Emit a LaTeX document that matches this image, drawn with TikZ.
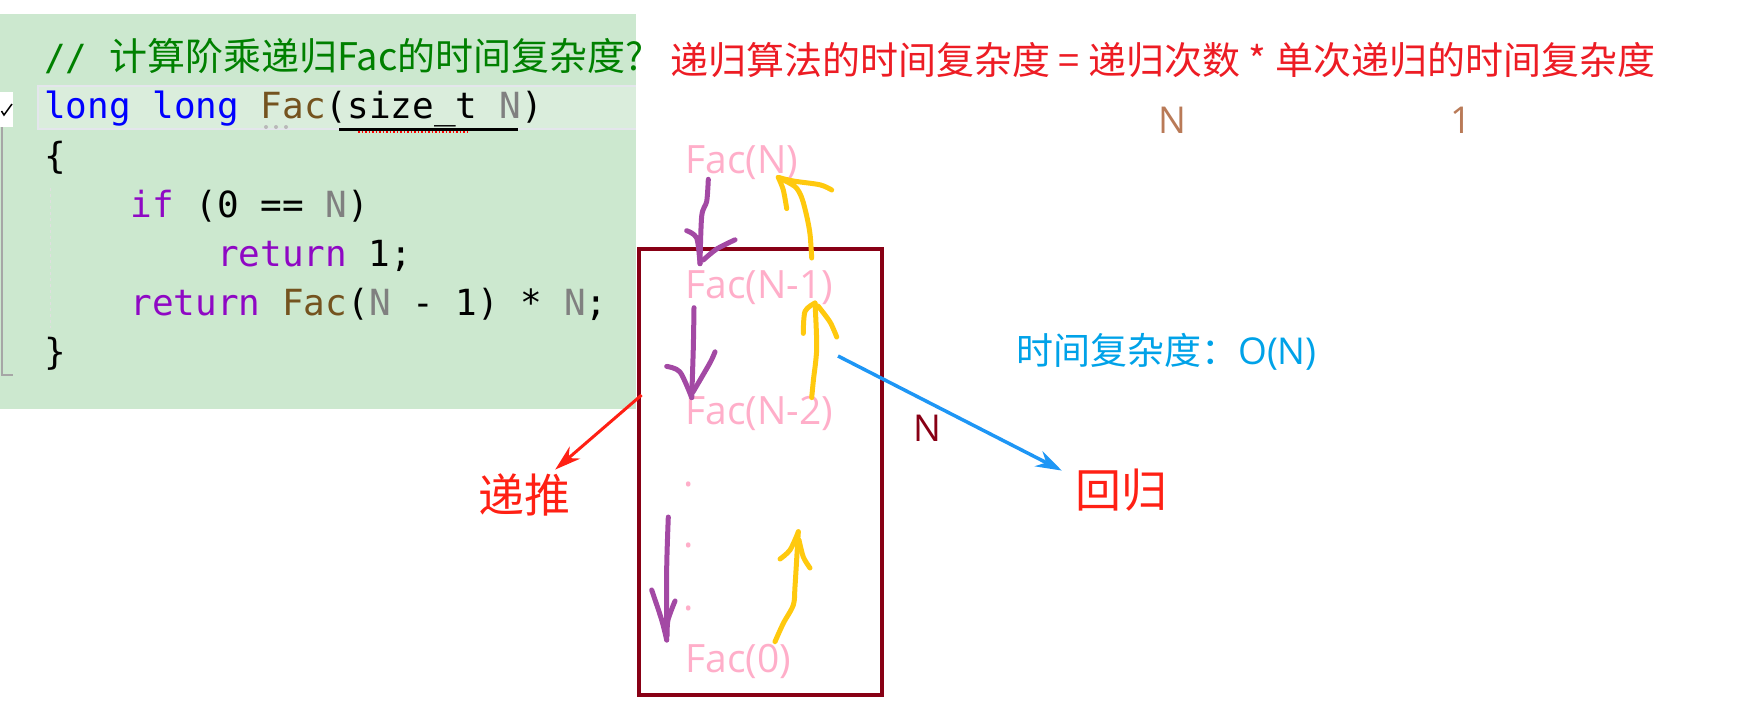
\documentclass[tikz,border=0pt]{standalone}
\usepackage{fontspec}
\setmainfont{Noto Sans CJK SC}
\setmonofont{DejaVu Sans Mono}
\newfontfamily\cjkfont{Noto Sans CJK SC}
\newfontfamily\latinfont{Open Sans}
\usetikzlibrary{calc,positioning,arrows.meta}
\definecolor{codebg}{RGB}{204,232,207}
\definecolor{linebg}{RGB}{218,237,220}
\definecolor{linebd}{RGB}{228,230,236}
\definecolor{kwblue}{RGB}{0,0,255}
\definecolor{kwpurple}{RGB}{143,8,196}
\definecolor{fnbrown}{RGB}{116,83,31}
\definecolor{argray}{RGB}{128,128,128}
\definecolor{cmtgreen}{RGB}{0,128,0}
\definecolor{titlered}{RGB}{237,28,36}
\definecolor{facpink}{RGB}{255,174,201}
\definecolor{boxred}{RGB}{136,0,21}
\definecolor{numbrown}{RGB}{185,122,87}
\definecolor{penpurple}{RGB}{163,73,164}
\definecolor{penyellow}{RGB}{255,201,14}
\definecolor{noteblue}{RGB}{0,162,232}
\definecolor{arrowblue}{RGB}{30,150,245}
\definecolor{markred}{RGB}{255,32,20}

\begin{document}
\begin{tikzpicture}[x=1pt,y=-1pt]
        \tikzstyle{code_line} = [anchor=base west, inner sep=0, font=\ttfamily\fontsize{36}{40}\selectfont]
        \tikzstyle{fac_label} = [anchor=base west, inner sep=0, text=facpink, font=\latinfont\fontsize{39}{40}\selectfont]
        \tikzstyle{count} = [inner sep=0, text=numbrown, font=\latinfont\fontsize{37}{40}\selectfont]
        \tikzstyle{mark_word} = [inner sep=0, text=markred, font=\cjkfont\fontsize{46}{48}\selectfont]
        \tikzstyle{pen_purple} = [penpurple, line width=5, line cap=round, line join=round]
        \tikzstyle{pen_yellow} = [penyellow, line width=5, line cap=round, line join=round]
        \useasboundingbox (0,0) rectangle (1760,704);

        \fill[codebg] (0,14) rectangle (635.5,409);
        \fill[linebg] (37,85) rectangle (635.5,130);
        \draw[linebd, line width=2.5] (635.5,86) -| (38,129) -- (635.5,129);
        \fill[white] (0,92) rectangle (13,127);
        \draw[line width=1.5] (1.5,111) -- (4,115) -- (12,104);
        \draw[gray!70, line width=2] (2,127) -- (2,375) -- (12.6,375);
        \draw[gray!25, dashed, line width=1.5] (50.5,188) -- (50.5,328);

        \node (comment) [code_line, text=cmtgreen] at (44,70) {// {\cjkfont\fontsize{38}{40}\selectfont 计算阶乘递归Fac的时间复杂度?}};
        \node (signature) [code_line] at (44,118) {\textcolor{kwblue}{long long} \textcolor{fnbrown}{Fac}(size\_t \textcolor{argray}{N})};
        \node (open_brace) [code_line] at (44,168) {\{};
        \node (if_line) [code_line] at (130.4,217) {\textcolor{kwpurple}{if} (0 == \textcolor{argray}{N})};
        \node (return_one) [code_line] at (216.8,266) {\textcolor{kwpurple}{return} 1;};
        \node (return_rec) [code_line] at (130.4,315) {\textcolor{kwpurple}{return} \textcolor{fnbrown}{Fac}(\textcolor{argray}{N} - 1) * \textcolor{argray}{N};};
        \node (close_brace) [code_line] at (44,364) {\}};
        \draw[line width=3] (339,129) -- (518,129);
        \draw[red, line width=1.5, dotted] (358,132) -- (467,132);
        \foreach \dx in {266,276,286} \fill[gray!55] (\dx,127) circle (2);

        \node (formula) [anchor=west, inner sep=0, text=titlered, font=\cjkfont\fontsize{38}{40}\selectfont] at (670,60) {递归算法的时间复杂度 = 递归次数 * 单次递归的时间复杂度};
        \node (count_n) [count] at (1172,120) {N};
        \node (count_one) [count] at (1461,120) {1};

        \node (call_stack) [draw=boxred, line width=4.5, minimum width=243, minimum height=446, inner sep=0] at (760.5,472) {};
        \node (fac_n) [fac_label] at (685,173) {Fac(N)};
        \node (fac_n1) [fac_label] at ($(fac_n.base west)+(0,125)$) {Fac(N-1)};
        \node (fac_n2) [fac_label] at ($(fac_n1.base west)+(0,126)$) {Fac(N-2)};
        \node (dot_a) [fac_label] at (683,486) {.};
        \node (dot_b) [fac_label] at (683,547) {.};
        \node (dot_c) [fac_label] at (683,610) {.};
        \node (fac_zero) [fac_label] at (685,672) {Fac(0)};
        \node (depth_n) [inner sep=0, text=boxred, font=\latinfont\fontsize{37}{40}\selectfont] at (927,428) {N};

        \node (complexity) [anchor=west, inner sep=0, text=noteblue, font=\cjkfont\fontsize{37}{40}\selectfont] at (1016,352) {时间复杂度：{\latinfont O(N)}};
        \node (tuitui) [mark_word] at (524,495) {递推};
        \node (huigui) [mark_word] at (1121,490) {回归};
        \coordinate (push_tail) at (641.6,395);
        \coordinate (back_tail) at (838,356);
        \draw[markred, line width=3, -{Stealth[length=26pt,width=16pt]}] (push_tail) -- ($(tuitui.north east)+(-15,-4)$);
        \draw[arrowblue, line width=3.5, -{Stealth[length=26pt,width=17pt]}] (back_tail) -- ($(huigui.north west)+(-13,2)$);

        \draw[pen_purple] plot[smooth] coordinates {(708.3,179.3) (706.7,201.3) (701.7,216) (700,263.7)};
        \draw[pen_purple] plot[smooth] coordinates {(686.7,230.7) (696.7,238) (700,263.7)};
        \draw[pen_purple] plot[smooth] coordinates {(735,239.8) (716.7,249) (703.3,260)};
        \draw[pen_purple] plot[smooth] coordinates {(694,307.7) (693.3,348) (691.7,397.6)};
        \draw[pen_purple] plot[smooth] coordinates {(666.7,366.4) (680,372) (691.7,397.6)};
        \draw[pen_purple] plot[smooth] coordinates {(715,351.8) (710,362.8) (693,392)};
        \draw[pen_purple] plot[smooth] coordinates {(668.3,517) (666.7,568) (666.7,640)};
        \draw[pen_purple] plot[smooth] coordinates {(651.7,590) (661.7,620) (666.7,640)};
        \draw[pen_purple] plot[smooth] coordinates {(675,601) (668,620) (667,636)};

        \draw[pen_yellow] plot[smooth] coordinates {(811.7,258) (810,234) (806.7,216) (801.7,197.6) (795,186.6) (778.3,177.4)};
        \draw[pen_yellow] plot[smooth] coordinates {(778.3,177.4) (793.3,181) (820,184.8) (831.7,190)};
        \draw[pen_yellow] plot[smooth] coordinates {(778.3,177.4) (783.3,190) (786.7,208.6)};
        \draw[pen_yellow] plot[smooth] coordinates {(811.7,397.6) (813.3,381) (816.7,348) (815,303)};
        \draw[pen_yellow] plot[smooth] coordinates {(803.3,333.4) (805,311.4) (815,303)};
        \draw[pen_yellow] plot[smooth] coordinates {(836.7,337) (830,322) (818,306)};
        \draw[pen_yellow] plot[smooth] coordinates {(775,641.7) (783.3,623.3) (793.3,605) (795,586.6) (798.3,531.6)};
        \draw[pen_yellow] plot[smooth] coordinates {(780,559) (790,550) (798.3,532)};
        \draw[pen_yellow] plot[smooth] coordinates {(810,568) (803.3,557) (799,540)};
    \end{tikzpicture}
\end{document}
